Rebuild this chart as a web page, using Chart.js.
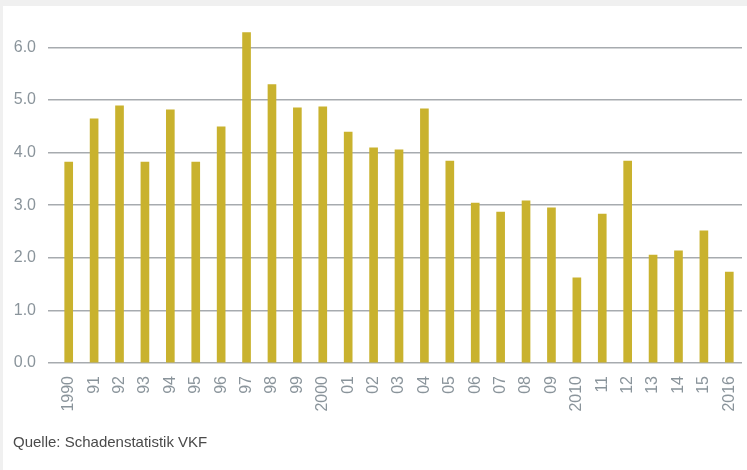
<!DOCTYPE html>
<html>
<head>
<meta charset="utf-8">
<script src="https://cdn.jsdelivr.net/npm/chart.js@4/dist/chart.umd.min.js"></script>
<style>
    html, body { margin: 0; padding: 0; background: #f0f0f0; }
    body { width: 747px; height: 470px; position: relative; overflow: hidden; }
    #panel { position: absolute; left: 3px; top: 6px; width: 744px; height: 464px; background: #fff; }
    #wrap { position: absolute; left: 0; top: 0; width: 747px; height: 470px; }
    #source { position: absolute; left: 13px; top: 434px; font: 15px/15px "Liberation Sans", Arial, sans-serif; color: #4a4a4a; white-space: nowrap; }
</style>
</head>
<body>
<div id="panel"></div>
<div id="wrap"><canvas id="chart" width="747" height="470"></canvas></div>
<div id="source">Quelle: Schadenstatistik VKF</div>
<script>
// Years (as labelled on the axis) and values
const years = ['1990', '91', '92', '93', '94', '95', '96', '97', '98', '99',
    '2000', '01', '02', '03', '04', '05', '06', '07', '08', '09',
    '2010', '11', '12', '13', '14', '15', '2016'];
const values = [3.82, 4.64, 4.89, 3.82, 4.81, 3.82, 4.49, 6.28, 5.29, 4.85,
    4.87, 4.39, 4.09, 4.05, 4.83, 3.84, 3.04, 2.87, 3.08, 2.95,
    1.62, 2.83, 3.84, 2.05, 2.13, 2.51, 1.73];
const yTicks = [0, 1, 2, 3, 4, 5, 6];

const tickColor = '#8a949b';
const gridColor = '#a7abaf';
const barColor = '#c9b22e';

const ctx = document.getElementById('chart').getContext('2d');
const chart = new Chart(ctx, {
    type: 'bar',
    data: {
        labels: years,
        datasets: [{
            data: values,
            backgroundColor: barColor,
            borderWidth: 0,
            barThickness: 8
        }]
    },
    options: {
        responsive: false,
        animation: false,
        layout: {
            padding: { top: 21, right: 5, bottom: 0, left: 0 }
        },
        plugins: {
            legend: { display: false },
            tooltip: { enabled: false }
        },
        scales: {
            x: {
                grid: { display: false, drawTicks: false },
                border: { display: false },
                ticks: {
                    color: tickColor,
                    font: { family: '"Liberation Sans", Arial, sans-serif', size: 16 },
                    minRotation: 90,
                    maxRotation: 90,
                    autoSkip: false,
                    padding: 13
                },
                afterFit: function (scale) {
                    scale.height = 107;
                    scale.paddingLeft = 0;
                    scale.paddingRight = 0;
                }
            },
            y: {
                min: 0,
                max: 6.5,
                afterBuildTicks: function (scale) {
                    scale.ticks = yTicks.map(v => ({ value: v }));
                },
                grid: {
                    color: gridColor,
                    lineWidth: 1.5,
                    drawTicks: true,
                    tickLength: 8
                },
                border: { display: false },
                ticks: {
                    color: tickColor,
                    font: { family: '"Liberation Sans", Arial, sans-serif', size: 16 },
                    padding: 12,
                    callback: function (v) { return Number(v).toFixed(1); }
                },
                afterFit: function (scale) {
                    scale.width = 56;
                    scale.paddingTop = 0;
                    scale.paddingBottom = 0;
                }
            }
        }
    }
});
</script>
</body>
</html>
